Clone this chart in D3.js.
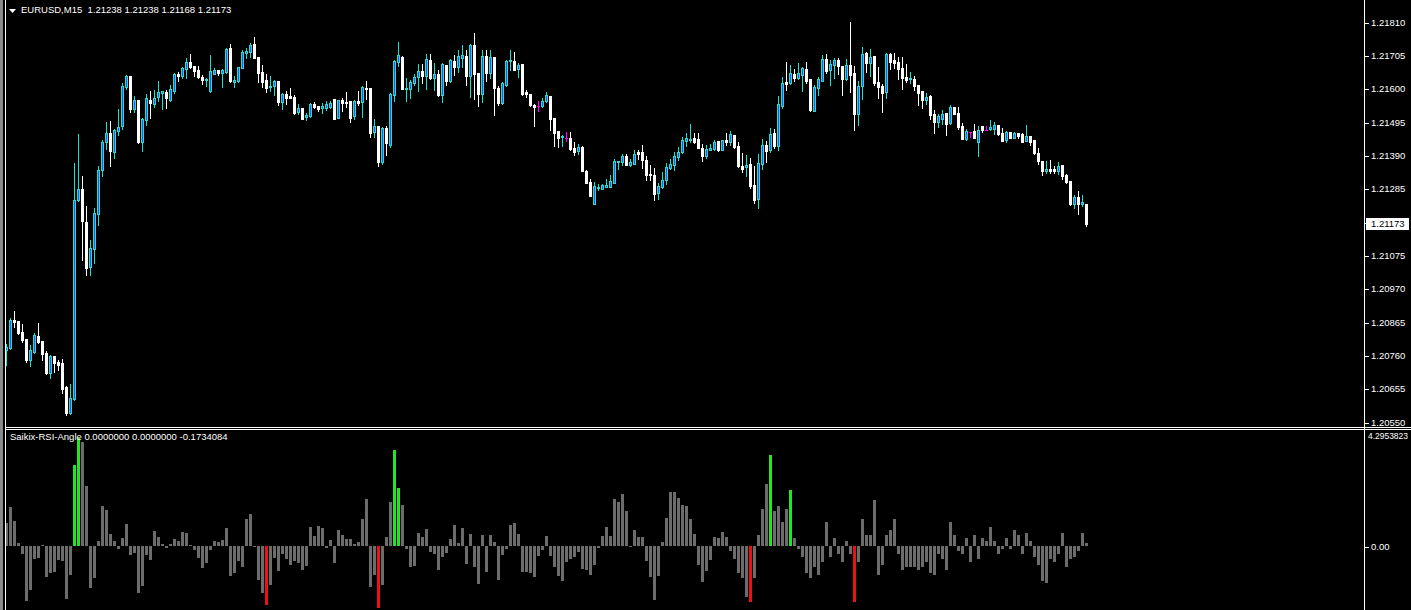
<!DOCTYPE html>
<html>
<meta charset="utf-8">
<head>
<script src="https://d3js.org/d3.v7.min.js"></script>
<style>
  body { margin: 0; background: #000; overflow: hidden; }
  svg { display: block; }
  .lbl { font-family: "Liberation Sans", Arial, sans-serif; font-size: 9.5px; fill: #fff; }
</style>
</head>
<body>
<script>
var width = 1411, height = 610;

// chart header
var symbol = "EURUSD,M15";
var header = ["1.21238", "1.21238", "1.21168", "1.21173"];

// EURUSD M15 candles, oldest first
var open = [
  1.20777,1.20783,1.20871,1.20868,1.20834,1.20812,1.20745,1.20771,1.20821,1.20805,
  1.20768,1.20705,1.20758,1.20739,1.20736,1.20660,1.20579,1.20622,1.21249,1.21284,
  1.21180,1.21038,1.21095,1.21205,1.21344,1.21432,1.21461,1.21401,1.21467,1.21482,
  1.21605,1.21640,1.21536,1.21564,1.21432,1.21501,1.21564,1.21551,1.21574,1.21587,
  1.21590,1.21564,1.21593,1.21646,1.21640,1.21662,1.21684,1.21671,1.21659,1.21637,
  1.21627,1.21593,1.21646,1.21659,1.21650,1.21653,1.21728,1.21621,1.21624,1.21665,
  1.21713,1.21716,1.21740,1.21700,1.21653,1.21627,1.21605,1.21608,1.21624,1.21558,
  1.21583,1.21577,1.21574,1.21527,1.21539,1.21511,1.21514,1.21551,1.21545,1.21539,
  1.21539,1.21542,1.21567,1.21507,1.21564,1.21558,1.21561,1.21514,1.21561,1.21558,
  1.21602,1.21602,1.21464,1.21482,1.21369,1.21476,1.21423,1.21580,1.21684,1.21700,
  1.21599,1.21599,1.21618,1.21637,1.21656,1.21640,1.21690,1.21634,1.21646,1.21580,
  1.21674,1.21624,1.21687,1.21668,1.21697,1.21703,1.21640,1.21737,1.21650,1.21583,
  1.21703,1.21650,1.21700,1.21602,1.21555,1.21611,1.21687,1.21687,1.21662,1.21677,
  1.21590,1.21583,1.21548,1.21545,1.21545,1.21561,1.21577,1.21507,1.21467,1.21448,
  1.21445,1.21445,1.21413,1.21404,1.21416,1.21341,1.21306,1.21237,1.21287,1.21284,
  1.21290,1.21290,1.21303,1.21369,1.21369,1.21388,1.21359,1.21362,1.21401,1.21401,
  1.21375,1.21331,1.21328,1.21271,1.21290,1.21312,1.21350,1.21359,1.21385,1.21401,
  1.21435,1.21438,1.21445,1.21441,1.21413,1.21388,1.21407,1.21410,1.21435,1.21407,
  1.21438,1.21432,1.21454,1.21419,1.21356,1.21353,1.21362,1.21297,1.21253,1.21362,
  1.21423,1.21407,1.21461,1.21419,1.21545,1.21621,1.21618,1.21646,1.21634,1.21643,
  1.21662,1.21631,1.21530,1.21602,1.21624,1.21694,1.21659,1.21674,1.21690,1.21671,
  1.21630,1.21674,1.21650,1.21520,1.21608,1.21713,1.21681,1.21703,1.21621,1.21608,
  1.21590,1.21709,1.21690,1.21684,1.21665,1.21637,1.21630,1.21630,1.21611,1.21593,
  1.21564,1.21577,1.21520,1.21495,1.21504,1.21524,1.21492,1.21542,1.21524,1.21482,
  1.21441,1.21464,1.21467,1.21432,1.21482,1.21470,1.21473,1.21473,1.21485,1.21461,
  1.21438,1.21464,1.21445,1.21461,1.21457,1.21435,1.21451,1.21438,1.21398,1.21372,
  1.21341,1.21347,1.21347,1.21341,1.21359,1.21328,1.21309,1.21237,1.21259,1.21237,
  1.21238
];
var high = [
  1.20795,1.20878,1.20900,1.20868,1.20858,1.20812,1.20792,1.20831,1.20862,1.20805,
  1.20774,1.20761,1.20758,1.20745,1.20748,1.20663,1.20669,1.21366,1.21457,1.21325,
  1.21230,1.21123,1.21224,1.21356,1.21438,1.21495,1.21498,1.21473,1.21536,1.21618,
  1.21643,1.21640,1.21577,1.21561,1.21507,1.21583,1.21593,1.21596,1.21624,1.21593,
  1.21596,1.21611,1.21650,1.21653,1.21668,1.21697,1.21709,1.21671,1.21671,1.21643,
  1.21634,1.21706,1.21665,1.21659,1.21662,1.21728,1.21740,1.21640,1.21668,1.21722,
  1.21728,1.21744,1.21763,1.21700,1.21674,1.21646,1.21640,1.21627,1.21624,1.21587,
  1.21593,1.21602,1.21580,1.21551,1.21539,1.21524,1.21555,1.21558,1.21545,1.21555,
  1.21561,1.21561,1.21567,1.21564,1.21571,1.21590,1.21561,1.21564,1.21593,1.21608,
  1.21624,1.21602,1.21504,1.21482,1.21479,1.21482,1.21587,1.21690,1.21747,1.21703,
  1.21634,1.21627,1.21646,1.21677,1.21677,1.21709,1.21709,1.21681,1.21659,1.21681,
  1.21674,1.21694,1.21706,1.21722,1.21737,1.21722,1.21740,1.21776,1.21650,1.21722,
  1.21722,1.21722,1.21700,1.21608,1.21621,1.21690,1.21722,1.21716,1.21681,1.21677,
  1.21596,1.21583,1.21551,1.21561,1.21571,1.21590,1.21577,1.21507,1.21467,1.21454,
  1.21464,1.21464,1.21432,1.21426,1.21419,1.21344,1.21316,1.21306,1.21300,1.21300,
  1.21316,1.21328,1.21378,1.21372,1.21394,1.21394,1.21378,1.21407,1.21407,1.21423,
  1.21388,1.21359,1.21350,1.21303,1.21338,1.21366,1.21379,1.21401,1.21416,1.21448,
  1.21461,1.21489,1.21461,1.21461,1.21426,1.21423,1.21426,1.21438,1.21435,1.21438,
  1.21461,1.21467,1.21454,1.21432,1.21398,1.21391,1.21382,1.21356,1.21394,1.21441,
  1.21435,1.21476,1.21473,1.21577,1.21637,1.21684,1.21674,1.21662,1.21681,1.21668,
  1.21684,1.21631,1.21611,1.21637,1.21706,1.21709,1.21690,1.21697,1.21697,1.21671,
  1.21694,1.21810,1.21671,1.21624,1.21731,1.21716,1.21725,1.21703,1.21668,1.21614,
  1.21713,1.21713,1.21713,1.21700,1.21700,1.21677,1.21653,1.21640,1.21611,1.21593,
  1.21587,1.21580,1.21533,1.21520,1.21533,1.21524,1.21548,1.21542,1.21542,1.21492,
  1.21473,1.21464,1.21489,1.21482,1.21482,1.21482,1.21501,1.21495,1.21485,1.21476,
  1.21467,1.21464,1.21464,1.21461,1.21461,1.21485,1.21451,1.21438,1.21413,1.21372,
  1.21372,1.21375,1.21356,1.21369,1.21359,1.21331,1.21309,1.21265,1.21278,1.21265,
  1.21238
];
var low = [
  1.20729,1.20780,1.20849,1.20827,1.20802,1.20739,1.20726,1.20768,1.20799,1.20745,
  1.20701,1.20689,1.20708,1.20714,1.20642,1.20572,1.20575,1.20619,1.21246,1.21060,
  1.21013,1.21013,1.21051,1.21170,1.21325,1.21410,1.21356,1.21382,1.21454,1.21473,
  1.21599,1.21527,1.21527,1.21429,1.21404,1.21485,1.21507,1.21542,1.21561,1.21536,
  1.21539,1.21561,1.21587,1.21624,1.21634,1.21634,1.21665,1.21640,1.21634,1.21614,
  1.21608,1.21590,1.21646,1.21643,1.21605,1.21650,1.21621,1.21605,1.21621,1.21665,
  1.21697,1.21700,1.21697,1.21621,1.21605,1.21590,1.21593,1.21580,1.21548,1.21536,
  1.21551,1.21571,1.21520,1.21520,1.21504,1.21501,1.21511,1.21539,1.21530,1.21524,
  1.21533,1.21539,1.21504,1.21507,1.21530,1.21542,1.21495,1.21504,1.21548,1.21511,
  1.21567,1.21448,1.21448,1.21356,1.21362,1.21391,1.21416,1.21561,1.21671,1.21599,
  1.21561,1.21571,1.21611,1.21593,1.21618,1.21599,1.21631,1.21596,1.21577,1.21558,
  1.21611,1.21621,1.21643,1.21653,1.21668,1.21611,1.21574,1.21567,1.21545,1.21558,
  1.21624,1.21634,1.21517,1.21548,1.21551,1.21608,1.21659,1.21659,1.21637,1.21580,
  1.21574,1.21545,1.21482,1.21530,1.21542,1.21558,1.21470,1.21419,1.21416,1.21419,
  1.21435,1.21407,1.21391,1.21395,1.21341,1.21303,1.21262,1.21237,1.21281,1.21284,
  1.21290,1.21290,1.21303,1.21347,1.21359,1.21359,1.21356,1.21362,1.21379,1.21350,
  1.21312,1.21312,1.21249,1.21252,1.21287,1.21300,1.21347,1.21344,1.21375,1.21398,
  1.21419,1.21432,1.21429,1.21413,1.21372,1.21382,1.21407,1.21407,1.21404,1.21407,
  1.21423,1.21423,1.21413,1.21353,1.21338,1.21325,1.21287,1.21240,1.21224,1.21347,
  1.21369,1.21401,1.21413,1.21407,1.21539,1.21596,1.21614,1.21624,1.21631,1.21593,
  1.21618,1.21530,1.21530,1.21580,1.21624,1.21650,1.21611,1.21634,1.21646,1.21580,
  1.21627,1.21590,1.21470,1.21485,1.21567,1.21653,1.21640,1.21611,1.21571,1.21527,
  1.21571,1.21662,1.21665,1.21630,1.21599,1.21621,1.21618,1.21596,1.21548,1.21539,
  1.21551,1.21504,1.21461,1.21479,1.21489,1.21454,1.21489,1.21520,1.21473,1.21441,
  1.21438,1.21448,1.21445,1.21388,1.21464,1.21470,1.21470,1.21457,1.21454,1.21435,
  1.21432,1.21445,1.21445,1.21445,1.21432,1.21435,1.21423,1.21394,1.21362,1.21328,
  1.21335,1.21335,1.21335,1.21331,1.21316,1.21303,1.21233,1.21224,1.21205,1.21230,
  1.21168
];
var close = [
  1.20786,1.20871,1.20865,1.20831,1.20808,1.20745,1.20777,1.20824,1.20802,1.20764,
  1.20705,1.20758,1.20736,1.20729,1.20654,1.20579,1.20625,1.21249,1.21284,1.21183,
  1.21035,1.21098,1.21209,1.21344,1.21432,1.21461,1.21404,1.21470,1.21479,1.21608,
  1.21640,1.21536,1.21564,1.21432,1.21504,1.21571,1.21555,1.21571,1.21590,1.21593,
  1.21571,1.21599,1.21646,1.21640,1.21665,1.21684,1.21668,1.21656,1.21637,1.21627,
  1.21630,1.21656,1.21659,1.21650,1.21659,1.21725,1.21624,1.21627,1.21668,1.21716,
  1.21719,1.21737,1.21697,1.21650,1.21621,1.21602,1.21608,1.21624,1.21558,1.21583,
  1.21571,1.21571,1.21524,1.21539,1.21504,1.21517,1.21551,1.21542,1.21536,1.21545,
  1.21551,1.21555,1.21504,1.21564,1.21555,1.21555,1.21507,1.21561,1.21555,1.21605,
  1.21599,1.21461,1.21482,1.21369,1.21476,1.21429,1.21583,1.21687,1.21706,1.21599,
  1.21602,1.21621,1.21637,1.21656,1.21640,1.21694,1.21634,1.21646,1.21580,1.21677,
  1.21624,1.21690,1.21668,1.21703,1.21706,1.21640,1.21737,1.21646,1.21583,1.21703,
  1.21650,1.21700,1.21602,1.21555,1.21618,1.21687,1.21690,1.21659,1.21674,1.21583,
  1.21583,1.21548,1.21542,1.21545,1.21561,1.21580,1.21504,1.21461,1.21445,1.21451,
  1.21445,1.21410,1.21401,1.21416,1.21341,1.21303,1.21262,1.21293,1.21290,1.21297,
  1.21297,1.21309,1.21372,1.21372,1.21388,1.21359,1.21369,1.21394,1.21394,1.21375,
  1.21328,1.21328,1.21268,1.21293,1.21312,1.21353,1.21362,1.21388,1.21401,1.21438,
  1.21445,1.21441,1.21432,1.21413,1.21388,1.21410,1.21413,1.21432,1.21407,1.21438,
  1.21432,1.21457,1.21416,1.21356,1.21347,1.21359,1.21293,1.21249,1.21366,1.21423,
  1.21404,1.21457,1.21419,1.21551,1.21618,1.21614,1.21650,1.21634,1.21650,1.21665,
  1.21624,1.21533,1.21605,1.21630,1.21694,1.21656,1.21677,1.21690,1.21671,1.21630,
  1.21674,1.21643,1.21520,1.21608,1.21709,1.21681,1.21700,1.21618,1.21605,1.21587,
  1.21709,1.21684,1.21681,1.21662,1.21634,1.21627,1.21634,1.21608,1.21587,1.21564,
  1.21574,1.21517,1.21495,1.21514,1.21520,1.21489,1.21542,1.21520,1.21479,1.21441,
  1.21467,1.21464,1.21445,1.21470,1.21470,1.21470,1.21479,1.21485,1.21457,1.21435,
  1.21464,1.21445,1.21461,1.21451,1.21432,1.21451,1.21432,1.21398,1.21372,1.21341,
  1.21347,1.21341,1.21341,1.21356,1.21325,1.21306,1.21237,1.21259,1.21237,1.21243,
  1.21173
];
var priceTicks = [1.21810,1.21705,1.21600,1.21495,1.21390,1.21285,1.21180,1.21075,1.20970,1.20865,1.20760,1.20655,1.20550];
var lastPrice = 1.21173;

// Saikix-RSI-Angle histogram, one value per candle
var indName = "Saikix-RSI-Angle";
var indBuffers = ["0.0000000", "0.0000000", "-0.1734084"];
var indMax = 4.2953823;
var angle = [
  0.85,1.44,0.92,0.10,-0.31,-2.05,-1.64,-0.49,-0.46,0.03,
  -1.16,-1.01,-0.96,-0.53,-0.57,-1.98,-1.08,3.01,4.02,3.87,
  2.23,-1.57,-1.19,0.17,1.48,1.33,0.44,0.17,-0.11,0.29,
  0.81,-0.34,-0.26,-1.75,-1.49,-0.34,-0.53,0.55,0.32,0.06,
  -0.07,0.06,0.25,0.17,0.51,0.47,0.02,-0.15,-0.46,-0.82,
  -0.65,-0.16,0.17,0.14,0.21,0.66,-1.12,-1.01,-0.56,-0.78,
  1.00,1.18,-0.04,-1.27,-1.75,-2.20,-1.46,-0.45,-0.93,-0.30,
  -0.49,-0.71,-0.56,-0.63,-0.90,-0.75,0.70,0.36,0.73,0.66,
  -0.07,0.21,-0.63,0.58,0.40,0.25,0.25,0.07,0.14,1.00,
  1.74,-1.53,-1.08,-2.31,-1.46,0.32,1.63,3.57,2.15,1.55,
  -0.11,-0.78,-0.75,0.47,0.32,0.62,-0.22,-0.30,-0.90,-0.41,
  -0.26,0.25,0.77,0.10,0.66,-0.67,0.44,-0.78,-1.42,0.40,
  -0.97,0.40,0.14,-1.27,-0.34,-0.11,0.77,0.85,0.44,-0.97,
  -0.97,-1.01,-1.16,-0.37,-0.15,0.36,-0.37,-0.78,-1.12,-1.31,
  -0.60,-0.49,-0.41,-0.22,-0.86,-0.90,-1.08,-0.71,-0.07,0.36,
  0.70,0.36,1.74,1.63,1.93,1.29,-0.04,0.58,0.32,0.32,
  -0.56,-1.16,-2.01,-1.12,0.14,1.03,2.00,2.00,1.78,1.55,
  1.48,1.00,0.44,-0.71,-1.34,-0.93,-0.52,0.32,0.29,0.51,
  0.32,-0.2,-0.5,-1.0,-1.2,-1.9,-2.1,-1.2,0.4,1.4,
  2.3,3.4,1.3,1.5,0.9,1.4,2.1,0.3,-0.1,-0.4,
  -1.0,-1.2,-0.8,-1.1,-0.6,0.9,-0.4,0.3,-0.3,-0.6,
  0.2,-0.3,-2.1,-0.6,1.0,0.4,0.4,1.7,-1.1,-0.7,
  0.4,0.6,1.0,-0.3,-0.9,-0.8,-0.8,-0.8,-0.9,-0.8,
  -0.6,-1.0,-1.1,-0.3,-0.5,-0.9,0.9,0.4,-0.2,-0.3,
  0.3,-0.6,0.4,-0.5,0.3,0.2,0.7,0.2,-0.3,-0.1,
  0.3,-0.1,0.6,0.4,-0.3,0.5,0.2,-0.4,-0.7,-1.3,
  -1.4,-0.5,-0.6,-0.3,0.5,-0.8,-0.5,-0.4,-0.2,0.5,
  0.1
];
var upSignals = [17, 18, 97, 98, 191, 196];
var downSignals = [65, 93, 186, 212];

var bullEdge = "#28dccb", bullFill = "#1e5aff", bearColor = "#ffffff", dojiColor = "#ff00ff";
var histGray = "#6c6c6c", histUp = "#1ee81e", histDown = "#ee1111";

var svg = d3.select("body").append("svg")
  .attr("width", width)
  .attr("height", height)
  .attr("shape-rendering", "crispEdges");

svg.append("rect").attr("width", width).attr("height", height).attr("fill", "#000");

var n = close.length;
var idx = d3.range(n);
var x = d3.scaleLinear().domain([0, n - 1]).range([6, 1086]);
var y = d3.scaleLinear().domain([1.20550, 1.21810]).range([422, 22]);
var px = function(i) { return Math.round(x(i)); };
var py = function(v) { return Math.round(y(v)); };

// candles
var candles = svg.append("g");
function kind(i) {
  if (close[i] > open[i]) return "bull";
  if (close[i] < open[i]) return "bear";
  return "doji";
}
function edgeColor(i) {
  var k = kind(i);
  return k == "bull" ? bullEdge : (k == "bear" ? bearColor : dojiColor);
}
candles.selectAll(".wick").data(idx).join("rect")
  .attr("class", "wick")
  .attr("x", function(i) { return px(i); })
  .attr("y", function(i) { return py(high[i]); })
  .attr("width", 1)
  .attr("height", function(i) { return py(low[i]) - py(high[i]) + 1; })
  .attr("fill", edgeColor);

candles.selectAll(".body").data(idx).join("rect")
  .attr("class", "body")
  .attr("x", function(i) { return px(i) - 1; })
  .attr("y", function(i) { return py(Math.max(open[i], close[i])); })
  .attr("width", 3)
  .attr("height", function(i) { return py(Math.min(open[i], close[i])) - py(Math.max(open[i], close[i])) + 1; })
  .attr("fill", edgeColor);

var bulls = idx.filter(function(i) { return kind(i) == "bull" && py(open[i]) - py(close[i]) > 1; });
candles.selectAll(".inner").data(bulls).join("rect")
  .attr("class", "inner")
  .attr("x", function(i) { return px(i); })
  .attr("y", function(i) { return py(close[i]) + 1; })
  .attr("width", 1)
  .attr("height", function(i) { return py(open[i]) - py(close[i]) - 1; })
  .attr("fill", bullFill);

// price axis
var axisX = 1364;
var yAxis = d3.axisRight(y)
  .tickValues(priceTicks)
  .tickFormat(d3.format(".5f"))
  .tickSize(4)
  .tickSizeOuter(0)
  .tickPadding(3);
var ag = svg.append("g").attr("transform", "translate(" + axisX + ",0)").call(yAxis);
ag.select(".domain").remove();
ag.selectAll("line").attr("stroke", "#fff").attr("transform", "translate(0.5,0.5)");
ag.selectAll("text").attr("class", "lbl").attr("font-size", null).attr("font-family", null).attr("fill", "#fff");

// current price box
var cp = py(lastPrice);
svg.append("rect").attr("x", axisX + 2).attr("y", cp - 6).attr("width", 43).attr("height", 12).attr("fill", "#fff");
svg.append("text").attr("class", "lbl").attr("x", axisX + 7).attr("y", cp).attr("dy", "0.35em")
  .style("fill", "#000").text(d3.format(".5f")(lastPrice));

// indicator window
var ys = d3.scaleLinear().domain([-2.39, indMax]).range([610, 431]);
var zero = Math.round(ys(0));
function barColor(i) {
  if (upSignals.indexOf(i) >= 0) return histUp;
  if (downSignals.indexOf(i) >= 0) return histDown;
  return histGray;
}
svg.append("g").selectAll("rect").data(idx).join("rect")
  .attr("x", function(i) { return px(i) - 1; })
  .attr("y", function(i) { return angle[i] >= 0 ? Math.round(ys(angle[i])) : zero; })
  .attr("width", 3)
  .attr("height", function(i) { return Math.abs(Math.round(ys(angle[i])) - zero); })
  .attr("fill", barColor);

var subAxis = d3.axisRight(ys).tickValues([0]).tickFormat(d3.format(".2f")).tickSize(4).tickSizeOuter(0).tickPadding(3);
var sg = svg.append("g").attr("transform", "translate(" + axisX + ",0)").call(subAxis);
sg.select(".domain").remove();
sg.selectAll("line").attr("stroke", "#fff").attr("transform", "translate(0.5,0.5)");
sg.selectAll("text").attr("class", "lbl").attr("font-size", null).attr("font-family", null).attr("fill", "#fff");
svg.append("text").attr("class", "lbl").attr("x", axisX + 4).attr("y", 439)
  .attr("textLength", 40).attr("lengthAdjust", "spacingAndGlyphs")
  .text(indMax.toFixed(7));

// frames
var frame = svg.append("g").attr("stroke", "#fff").attr("stroke-width", 1);
frame.append("line").attr("x1", 5.5).attr("x2", 5.5).attr("y1", 0).attr("y2", height);
frame.append("line").attr("x1", axisX + 0.5).attr("x2", axisX + 0.5).attr("y1", 0).attr("y2", height);
frame.append("line").attr("x1", 5).attr("x2", width).attr("y1", 427.5).attr("y2", 427.5);
frame.append("line").attr("x1", 5).attr("x2", width).attr("y1", 429.5).attr("y2", 429.5);
svg.append("rect").attr("x", 0).attr("y", 0).attr("width", 3).attr("height", height).attr("fill", "#8a8a8a");

// header texts
svg.append("path").attr("d", "M9,9 L16,9 L12.5,13 Z").attr("fill", "#fff").attr("shape-rendering", "auto");
svg.append("text").attr("class", "lbl").attr("x", 21).attr("y", 13)
  .attr("xml:space", "preserve")
  .text(symbol + "  " + header.join(" "));
svg.append("text").attr("class", "lbl").attr("x", 10).attr("y", 440)
  .text(indName + " " + indBuffers.join(" "));
</script>
</body>
</html>
